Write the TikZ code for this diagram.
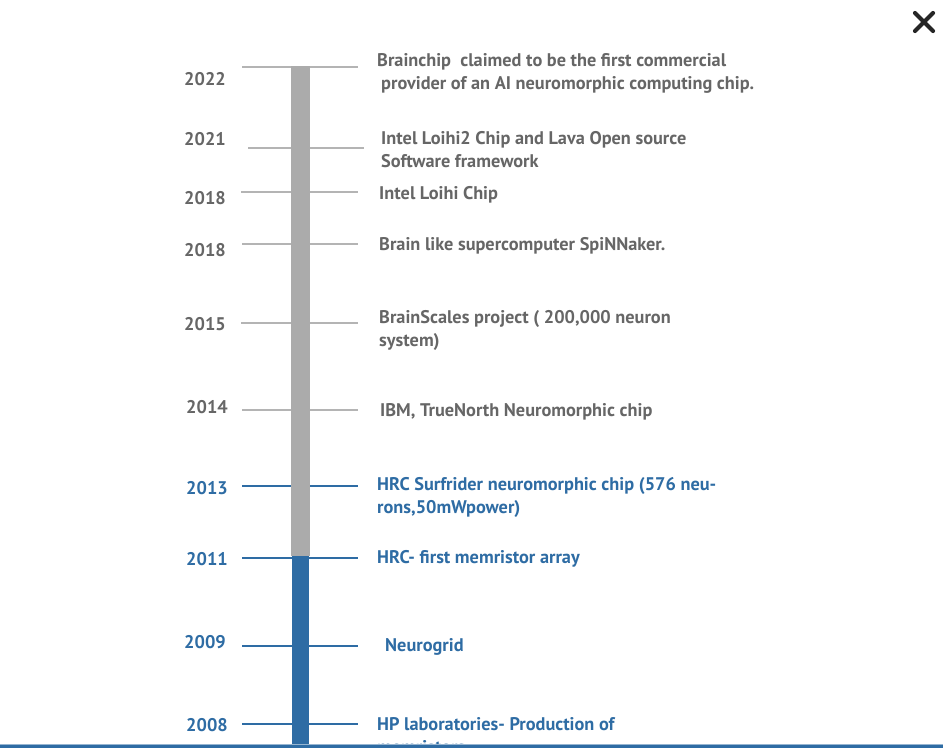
\documentclass[tikz,border=0pt]{standalone}
\usepackage{fontspec}
\setmainfont{PT Sans}
\definecolor{bargray}{HTML}{ABABAB}
\definecolor{tickgray}{HTML}{B4B4B4}
\definecolor{txtgray}{HTML}{666666}
\definecolor{tlblue}{HTML}{2E6CA4}
\begin{document}
\begin{tikzpicture}[x=1pt,y=-1pt,
  tickg/.style={draw=tickgray,line width=1.4pt},
  tickb/.style={draw=tlblue,line width=1.4pt},
  yr/.style={font=\bfseries\fontsize{18.3}{23}\selectfont,inner sep=0pt,anchor=center},
  ev/.style={font=\bfseries\fontsize{18.3}{23}\selectfont,inner sep=0pt,anchor=west,align=left}]
\useasboundingbox (0,0) rectangle (943,748);
\fill[white] (0,0) rectangle (943,748);
% ticks
\coordinate (a1) at (242,67);  \coordinate (b1) at (358,67);
\coordinate (a2) at (248,148); \coordinate (b2) at (364,148);
\coordinate (a3) at (241,192); \coordinate (b3) at (358,192);
\coordinate (a4) at (242,244); \coordinate (b4) at (358,244);
\coordinate (a5) at (241,323); \coordinate (b5) at (358,323);
\coordinate (a6) at (242,410); \coordinate (b6) at (358,410);
\coordinate (a7) at (242,486); \coordinate (b7) at (358,486);
\coordinate (a8) at (242,558); \coordinate (b8) at (358,558);
\coordinate (a9) at (242,646); \coordinate (b9) at (358,646);
\coordinate (a10) at (242,724); \coordinate (b10) at (358,724);
\foreach \i in {1,...,6} {\draw[tickg] (a\i) -- (b\i);}
\foreach \i in {7,...,10} {\draw[tickb] (a\i) -- (b\i);}
% bar
\fill[bargray] (291,66) rectangle (310,556);
\fill[tlblue] (292,556) rectangle (309,748);
% years
\node[yr,text=txtgray] (y1) at (205,79) {2022};
\node[yr,text=txtgray] (y2) at (205,139) {2021};
\node[yr,text=txtgray] (y3) at (205,198) {2018};
\node[yr,text=txtgray] (y4) at (205,250) {2018};
\node[yr,text=txtgray] (y5) at (205,324) {2015};
\node[yr,text=txtgray] (y6) at (207,407) {2014};
\node[yr,text=tlblue] (y7) at (207,488) {2013};
\node[yr,text=tlblue] (y8) at (207,559) {2011};
\node[yr,text=tlblue] (y9) at (205,642) {2009};
\node[yr,text=tlblue] (y10) at (207,725) {2008};
% events
\node[ev,text=txtgray] (e1) at (377,73) {Brainchip\ \ claimed to be the first commercial\\\hspace*{4pt}provider of an AI neuromorphic computing chip.};
\node[ev,text=txtgray] (e2) at (381,150) {Intel Loihi2 Chip and Lava Open source\\Software framework};
\node[ev,text=txtgray] (e3) at (379,195) {Intel Loihi Chip};
\node[ev,text=txtgray] (e4) at (379,246) {Brain like supercomputer SpiNNaker.};
\node[ev,text=txtgray] (e5) at (379,330) {BrainScales project ( 200,000 neuron\\system)};
\node[ev,text=txtgray] (e6) at (380,412) {IBM, TrueNorth Neuromorphic chip};
\node[ev,text=tlblue] (e7) at (377,497) {HRC Surfrider neuromorphic chip (576 neu-\\rons,50mWpower)};
\node[ev,text=tlblue] (e8) at (377,559) {HRC- first memristor array};
\node[ev,text=tlblue] (e9) at (385,647) {Neurogrid};
\node[ev,text=tlblue] (e10) at (377,736) {HP laboratories- Production of\\memristors};
% bottom rule
\fill[white] (0,746) rectangle (943,760);
\draw[draw=tlblue!50,line width=1pt] (0,744) -- (943,744);
\draw[draw=tlblue,line width=2.5pt] (0,746.5) -- (943,746.5);
% close icon
\coordinate (x1) at (915,13); \coordinate (x2) at (933,31);
\coordinate (x3) at (933,13); \coordinate (x4) at (915,31);
\draw[line width=4.2pt,line cap=round,black!85] (x1) -- (x2);
\draw[line width=4.2pt,line cap=round,black!85] (x3) -- (x4);
\end{tikzpicture}
\end{document}
